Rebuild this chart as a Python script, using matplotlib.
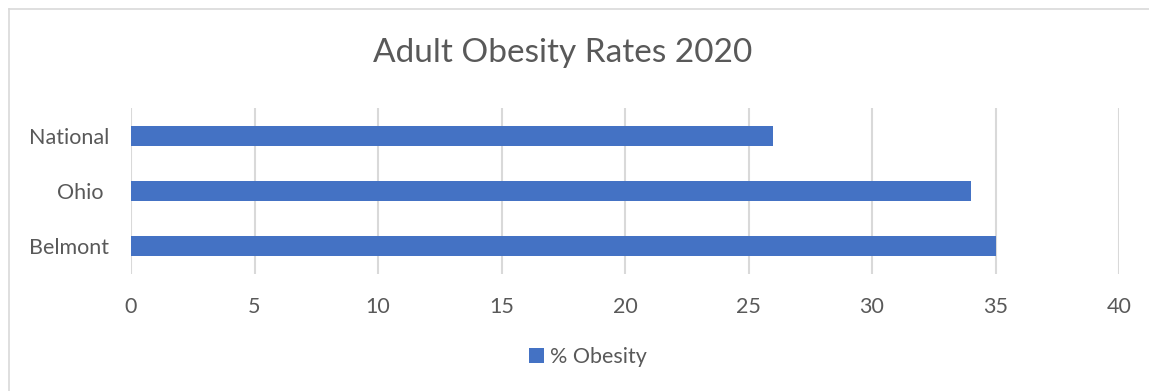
import matplotlib
matplotlib.use("Agg")
import matplotlib.pyplot as plt
from matplotlib.lines import Line2D
from matplotlib.patches import Patch

categories = ["Belmont", "Ohio ", "National"]
values = [35, 34, 26]
series_name = "% Obesity"
title = "Adult Obesity Rates 2020"
xticks = [0, 5, 10, 15, 20, 25, 30, 35, 40]

plt.rcParams['font.family'] = ['Lato', 'DejaVu Sans']
txt = "#595959"
bar_color = "#4472C4"
grid_color = "#D9D9D9"

W, H = 1149, 391
fig = plt.figure(figsize=(W / 100, H / 100), dpi=100)
ax = fig.add_axes([131 / W, 1 - 274 / H, (1119 - 131) / W, (274 - 108) / H])

ypos = list(range(len(categories)))
ax.barh(ypos, values, height=0.36, color=bar_color, zorder=3)
ax.set_xlim(0, 40)
ax.set_ylim(-0.5, len(categories) - 0.5)
ax.set_xticks(xticks)
ax.set_xticklabels([str(t) for t in xticks])
ax.set_yticks(ypos)
ax.set_yticklabels(categories)
ax.tick_params(axis='both', length=0, labelsize=15.5, colors=txt)
ax.tick_params(axis='x', pad=16.5)
ax.tick_params(axis='y', pad=16)
ax.grid(axis='x', color=grid_color, linewidth=1.5, zorder=0)
for s in ax.spines.values():
    s.set_visible(False)

fig.text(0.5 * (373 + 752) / W, 1 - 53 / H, title, ha='center', va='center',
         fontsize=24, color=txt)

handles = [Patch(facecolor=bar_color, edgecolor='none', label=series_name)]
leg = fig.legend(handles=handles, loc='center', bbox_to_anchor=(588 / W, 1 - 357 / H),
                 frameon=False, fontsize=15.5, handlelength=0.7, handleheight=0.7,
                 handletextpad=0.3, labelcolor=txt)

fig.add_artist(Line2D([9 / W, 1], [1 - 8.5 / H, 1 - 8.5 / H], transform=fig.transFigure,
                      color=grid_color, linewidth=1.2))
fig.add_artist(Line2D([8.5 / W, 8.5 / W], [0, 1 - 8.5 / H], transform=fig.transFigure,
                      color=grid_color, linewidth=1.2))

fig.savefig("out.png", dpi=100, facecolor="white")
